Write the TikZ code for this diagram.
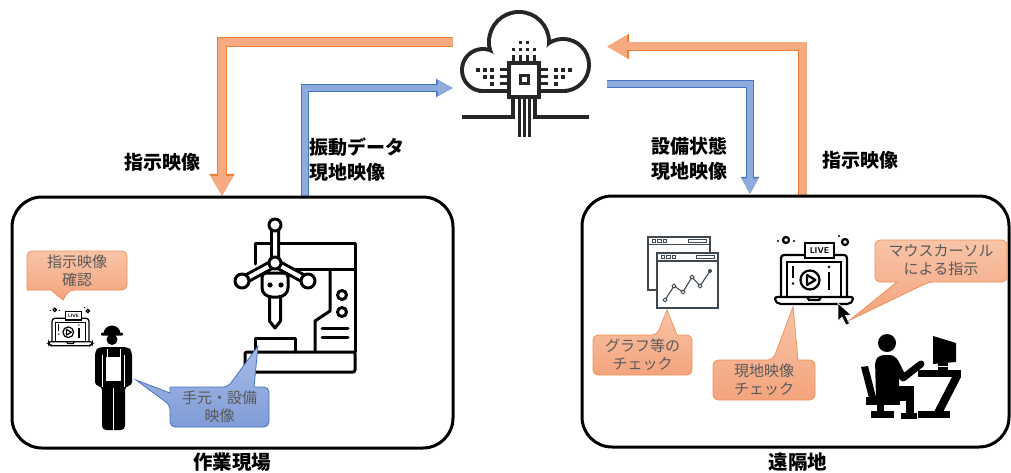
\documentclass[tikz,border=0pt]{standalone}
\usepackage{fontspec}
\newfontfamily\jp{Noto Sans CJK JP}
\usetikzlibrary{arrows.meta}
\definecolor{ofill}{RGB}{245,170,130}
\definecolor{oline}{RGB}{237,125,49}
\definecolor{bfill}{RGB}{143,170,220}
\definecolor{bline}{RGB}{68,114,196}
\definecolor{ctop}{RGB}{248,196,168}
\definecolor{cbot}{RGB}{243,164,125}
\definecolor{cedge}{RGB}{240,145,90}
\definecolor{btop}{RGB}{168,188,232}
\definecolor{bbot}{RGB}{128,156,214}
\definecolor{calltext}{RGB}{89,89,89}
\definecolor{icon}{RGB}{38,38,38}
\definecolor{slate}{RGB}{62,72,78}

\tikzset{
  sitebox/.style={draw=black, line width=3pt, rounded corners=30pt, inner sep=0pt},
  flowlabel/.style={font=\jp\bfseries\fontsize{19}{25}\selectfont, inner sep=0pt, align=left},
  sitelabel/.style={font=\jp\bfseries\fontsize{19.5}{24}\selectfont, inner sep=0pt},
  calltxt/.style={font=\jp\fontsize{15}{18}\selectfont, text=calltext, align=center, inner sep=0pt},
  ocall/.style={draw=cedge, line width=0.8pt, top color=ctop, bottom color=cbot, rounded corners=5pt},
  bcall/.style={draw=bline, line width=0.8pt, top color=btop, bottom color=bbot, rounded corners=5pt},
  oback/.style={draw=oline, line width=9.6pt, line join=miter, -{Triangle[length=22pt,width=23.5pt]}},
  ofront/.style={draw=ofill, line width=8pt, line join=miter, -{Triangle[length=20pt,width=21pt]}},
  bback/.style={draw=bline, line width=7.4pt, line join=miter, -{Triangle[length=17pt,width=17pt]}},
  bfront/.style={draw=bfill, line width=6pt, line join=miter, -{Triangle[length=15.5pt,width=15pt]}},
  liveicon/.pic={
    % laptop lid and screen
    \draw[line width=#1, fill=white, rounded corners=3] (-33,21) -- (-33,-21) -- (33,-21) -- (33,21);
    \draw[line width=#1] (-27,21) rectangle (27,-14);
    % laptop base with notch
    \draw[line width=#1, fill=white, rounded corners=2] (-39,21) -- (39,21) -- (39,25) -- (35,28) -- (-35,28) -- (-39,25) -- cycle;
    \draw[line width=#1] (-7,21) -- (-5,24) -- (5,24) -- (7,21);
    % LIVE tag
    \draw[line width=#1, fill=white] (-9,-33) rectangle (20,-18);
    \node[transform shape, inner sep=0pt, font=\sffamily\bfseries\fontsize{8.5}{8.5}\selectfont] at (5.5,-25.5) {LIVE};
    % play button
    \draw[line width=#1] (-4,4) circle[radius=9.5];
    \draw[line width=#1, line join=round] (-7,-1) -- (-7,9) -- (1.5,4) -- cycle;
    % exclamation mark and info sign
    \draw[line width=#1] (-21,-10) -- (-21,2);
    \fill (-21,7.5) circle[radius=1.4];
    \fill (15,-9) circle[radius=1.4];
    \draw[line width=#1] (15,-4) -- (15,14);
    % sparkles above the lid
    \draw[line width=#1] (-28,-36) circle[radius=3];
    \fill (-36,-35) circle[radius=1.2] (-20,-35) circle[radius=1.2] (25,-40) circle[radius=1.2];
    \draw[line width=#1] (31,-34) circle[radius=3];
  }
}

\begin{document}
\begin{tikzpicture}[x=1pt, y=-1pt]
\useasboundingbox (0,0) rectangle (1011,473);
\fill[white] (0,0) rectangle (1011,473);

% ---------- data flows between the sites and the cloud ----------
\coordinate (cW1) at (453,42);   \coordinate (sA1) at (222,196);
\coordinate (sA2) at (305,197);  \coordinate (cW2) at (453,88);
\coordinate (sB1) at (802.5,197);\coordinate (cE1) at (607,46.5);
\coordinate (cE2) at (607,84);   \coordinate (sB2) at (750,194);

\draw[oback] (cW1) -| (sA1);  \draw[ofront] (cW1) -| (sA1);
\draw[bback] (sA2) |- (cW2);  \draw[bfront] (sA2) |- (cW2);
\draw[oback] (sB1) |- (cE1);  \draw[ofront] (sB1) |- (cE1);
\draw[bback] (cE2) -| (sB2);  \draw[bfront] (cE2) -| (sB2);

\node[flowlabel, anchor=center] (lblA1) at (162,162) {指示映像};
\node[flowlabel, anchor=west] (lblA2) at (309,159.5) {振動データ\\現地映像};
\node[flowlabel, anchor=west] (lblB1) at (651,159) {設備状態\\現地映像};
\node[flowlabel, anchor=center] (lblB2) at (860,160) {指示映像};

% ---------- the two sites ----------
\node[sitebox, minimum width=441pt, minimum height=251pt] (siteA) at (232.5,322.5) {};
\node[sitebox, minimum width=427pt, minimum height=251pt] (siteB) at (795.5,321.5) {};
\node[sitelabel] (nameA) at (232,462) {作業現場};
\node[sitelabel] (nameB) at (798,462) {遠隔地};

% ---------- cloud with a chip ----------
\begin{scope}[icon]
  % thick rims of every lobe, then each lobe blanked separately so only the outer rim stays
  \draw[line width=8pt] (519,42) circle[radius=28];
  \draw[line width=8pt] (483,70) circle[radius=19];
  \draw[line width=8pt] (563,65) circle[radius=24];
  \draw[line width=8pt] (483,60) rectangle (563,89);
  \fill[white] (519,42) circle[radius=28];
  \fill[white] (483,70) circle[radius=19];
  \fill[white] (563,65) circle[radius=24];
  \fill[white] (483,60) rectangle (563,89);
  \draw[line width=3.5pt, fill=white] (509,63) rectangle (539,97);
  \draw[line width=3pt] (520,76) rectangle (528,84);
  \foreach \x in {513.5,520.5,527.5,534.5} {
    \draw[line width=3pt] (\x,55) -- (\x,63);
    \fill (\x-1.6,47.9) rectangle ++(3.2,3.2);
  }
  \foreach \x in {520.5,527.5} \fill (\x-1.6,41) rectangle ++(3.2,3.2);
  \foreach \y in {70,77,84} {
    \draw[line width=3pt] (500,\y) -- (509,\y);
    \draw[line width=3pt] (539,\y) -- (548,\y);
    \fill (492-1.6,\y-1.6) rectangle ++(3.2,3.2);
    \fill (556-1.6,\y-1.6) rectangle ++(3.2,3.2);
  }
  \foreach \y in {70,77} {
    \fill (485-1.6,\y-1.6) rectangle ++(3.2,3.2);
    \fill (563-1.6,\y-1.6) rectangle ++(3.2,3.2);
  }
  \fill (478-1.6,70-1.6) rectangle ++(3.2,3.2);
  \fill (570-1.6,70-1.6) rectangle ++(3.2,3.2);
  \draw[line width=3.5pt] (462,117) -- (513,117) -- (513,97);
  \draw[line width=3.5pt] (589,117) -- (535,117) -- (535,97);
  \foreach \x in {519,524,529} \draw[line width=3pt] (\x,97) -- (\x,137);
\end{scope}

% ---------- machine tool ----------
\begin{scope}[line width=3pt, line cap=round, line join=round]
  % frame, base and work platform
  \draw (255,264) -- (255,243) -- (355,243) -- (355,352);
  \draw[rounded corners=2pt] (245,352) rectangle (355,372);
  \draw (255,352) -- (255,338) -- (295,338) -- (295,352);
  \draw (290,269) -- (355,269);
  \draw (330,269) -- (330,311) -- (315,321) -- (315,352);
  % control panel
  \draw (342,295) circle[radius=4.5] (342,312) circle[radius=4.5];
  \draw (322,328) -- (348,328) (322,337) -- (348,337);
  % robot arm
  \draw[line width=10pt, line cap=butt] (275,225) -- (275,263) (242,281) -- (275,263) -- (308,281);
  \draw[line width=4pt, white, line cap=butt] (275,225) -- (275,263) (242,281) -- (275,263) -- (308,281);
  \draw[fill=white] (269.5,296) -- (269.5,321) -- (275,328) -- (280.5,321) -- (280.5,296);
  \draw[fill=white, rounded corners=4pt] (262,273) -- (288,273) -- (288,292) -- (282,297) -- (268,297) -- (262,292) -- cycle;
  \fill (270,285) circle[radius=2.6] (281,285) circle[radius=2.6];
  \draw[fill=white] (275,225) circle[radius=6] (242,281) circle[radius=7]
        (308,281) circle[radius=7] (275,263) circle[radius=6];
\end{scope}

% ---------- worker with hard hat and apron ----------
\begin{scope}
  \fill (103.5,334) arc[start angle=180, end angle=360, radius=8.5] -- cycle;
  \fill[rounded corners=1pt] (101,332.5) rectangle (123,335.5);
  \fill (112,339.5) circle[radius=5.5];
  \fill[rounded corners=4pt] (95,386) -- (95,351) -- (99,347) -- (128,347) -- (132,351) -- (132,386) -- (125,386) -- (125,430) -- (102,430) -- (102,386) -- cycle;
  \draw[white, line width=0.9pt] (102.8,355) -- (102.8,387) (124.2,355) -- (124.2,387) (113.5,388) -- (113.5,431);
  \fill[white] (106,357) rectangle (121,381);
  \draw[white, line width=0.9pt] (107,349) -- (107,357) (120,349) -- (120,357);
\end{scope}

% ---------- laptops with live video ----------
\pic at (70.5,330) [scale=0.56] {liveicon=1.2pt};
\pic at (814,276) {liveicon=2.2pt};
\filldraw[black, draw=white, line width=0.6pt] (838,303) -- (838,321) -- (842,317) -- (846,325)
  -- (849.5,323.5) -- (845.5,315.5) -- (851,315) -- cycle;

% ---------- graph windows ----------
\begin{scope}[slate]
  \draw[line width=1.6pt, fill=white] (648,237) rectangle (710,290);
  \draw[line width=1.2pt] (648,244.5) -- (710,244.5);
  \foreach \x in {652,657.5,663} \draw[line width=0.8pt] (\x,239) rectangle ++(3.5,3);
  \draw[line width=0.8pt] (688,239) rectangle (706,242.5);
  \draw[line width=1.6pt, fill=white] (657,253) rectangle (718,308);
  \draw[line width=1.2pt] (657,261) -- (718,261);
  \foreach \x in {661,666.5,672} \draw[line width=0.8pt] (\x,255) rectangle ++(3.5,3);
  \draw[line width=0.8pt] (696,255) rectangle (714,258.5);
  \draw[line width=1.1pt] (665,300) -- (674,286) -- (683,292) -- (692,277) -- (700,286) -- (710,271);
  \foreach \p in {(665,300),(674,286),(683,292),(692,277),(700,286)}
    \draw[line width=0.9pt, fill=white] \p circle[radius=1.9];
  \fill (710,271) circle[radius=2];
\end{scope}

% ---------- operator at a desk ----------
\begin{scope}
  \fill (887,343) circle[radius=9];
  \fill[rounded corners=4pt] (876,398) -- (875,360) -- (880,355) -- (894,355) -- (899,362) -- (899,398) -- cycle;
  \draw[line width=7pt, line cap=round, line join=round] (895,362) -- (903,378) -- (921,364);
  \fill (876,386) rectangle (914,401);
  \fill (906,386) rectangle (914,418);
  \fill (901,413) rectangle (917,419);
  \fill (861,367) -- (868,366) -- (876,397) -- (869,398) -- cycle;
  \fill (866,397) rectangle (900,405);
  \fill (877,404) rectangle (884,412);
  \fill (871,411) rectangle (894,418);
  \fill (918,370) rectangle (961,377);
  \fill (952,377) -- (961,377) -- (943,412) -- (934,412) -- cycle;
  \fill (918,411) rectangle (950,418);
  \fill (933,336) -- (956,343) -- (956,362) -- (933,364) -- cycle;
  \fill (938,363) rectangle (948,370);
  \draw[white, line width=0.8pt] (938,366.5) -- (948,366.5);
\end{scope}

% ---------- callouts ----------
\path[ocall] (77,251) -- (127,251) -- (127,290) -- (69,290) [sharp corners] -- (63,300) -- (51,290)
  -- (27,290) [rounded corners=5pt] -- (27,251) -- cycle;
\node[calltxt] (noteA1) at (77,270.5) {指示映像\\確認};

\path[bcall] (220,427) -- (170,427) -- (170,405) [sharp corners] -- (136,380) -- (170,393)
  -- (170,387) [rounded corners=5pt] -- (228,387) [sharp corners] -- (258,346) -- (254,387)
  [rounded corners=5pt] -- (269,387) -- (269,427) -- cycle;
\node[calltxt] (noteA2) at (219.5,406.5) {手元・設備\\映像};

\path[ocall] (642,375) -- (593,375) -- (593,335) -- (657,335) [sharp corners] -- (667,310)
  -- (677,335) [rounded corners=5pt] -- (692,335) -- (692,375) -- cycle;
\node[calltxt] (noteB1) at (642.5,355) {グラフ等の\\チェック};

\path[ocall] (764,400) -- (713,400) -- (713,360) -- (773,360) [sharp corners] -- (793,307)
  -- (798,360) [rounded corners=5pt] -- (815,360) -- (815,400) -- cycle;
\node[calltxt] (noteB2) at (764,380) {現地映像\\チェック};

\path[ocall] (941,240) -- (1007,240) -- (1007,282) -- (929,282) [sharp corners] -- (850,320)
  -- (897,282) [rounded corners=5pt] -- (875,282) -- (875,240) -- cycle;
\node[calltxt] (noteB3) at (941,260) {マウスカーソル\\による指示};

\end{tikzpicture}
\end{document}
